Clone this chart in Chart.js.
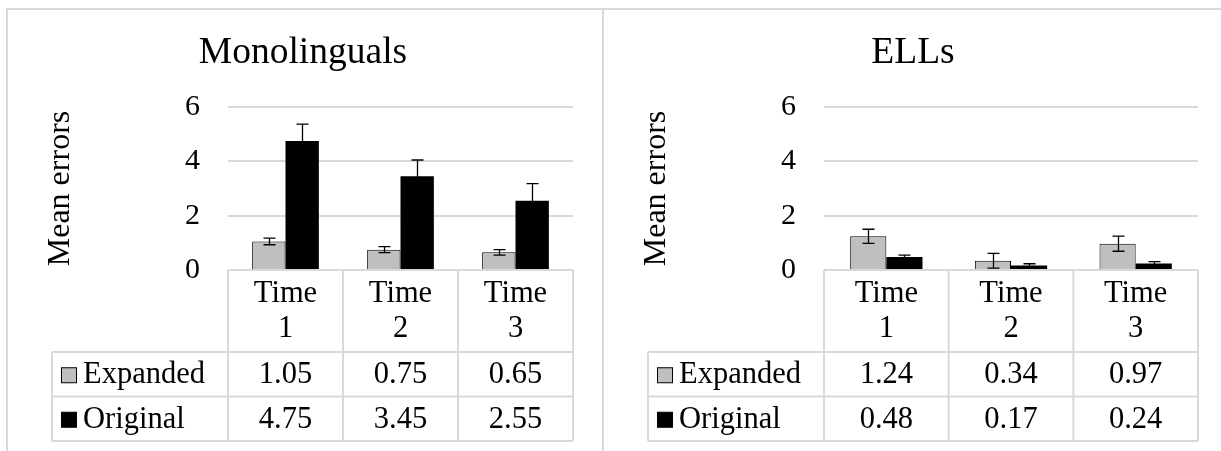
<!DOCTYPE html>
<html><head><meta charset="utf-8">
<script src="https://cdn.jsdelivr.net/npm/chart.js@4.4.1/dist/chart.umd.min.js"></script>
<style>
html,body{margin:0;padding:0;background:#fff}
#wrap{position:relative;width:1221px;height:451px;overflow:hidden;background:#fff}
.ln{position:absolute;background:#d9d9d9}
.box{position:absolute;top:0;height:451px}
</style></head><body>
<div id="wrap">
  <div class="ln" style="left:6px;top:8px;width:1215px;height:2px"></div>
  <div class="ln" style="left:6px;top:8px;width:2px;height:443px"></div>
  <div class="ln" style="left:602px;top:8px;width:2px;height:443px"></div>
  <div class="box" style="left:0;width:603px"><canvas id="cMono"></canvas></div>
  <div class="box" style="left:604px;width:617px"><canvas id="cEll"></canvas></div>
</div>
<script>
// data
const categories=[['Time','1'],['Time','2'],['Time','3']];
const seriesNames=['Expanded','Original'];
const yTicks=[0,2,4,6];

const monoExpanded=[1.05,0.75,0.65];
const monoOriginal=[4.75,3.45,2.55];
const monoExpandedErr=[0.12,0.11,0.10];
const monoOriginalErr=[0.62,0.60,0.63];

const ellExpanded=[1.24,0.34,0.97];
const ellOriginal=[0.48,0.17,0.24];
const ellExpandedErr=[0.26,0.27,0.28];
const ellOriginalErr=[0.07,0.06,0.07];

const FONT="'Liberation Serif','Times New Roman',serif";
const GRID='#d9d9d9';
const COLS=['#bfbfbf','#000000'];

// error bars drawn on top of the bars
const errorBars={id:'errorBars',afterDatasetsDraw(chart){
  const y=chart.scales.y,ctx=chart.ctx;
  ctx.save();ctx.strokeStyle='#000';ctx.lineWidth=1.3;
  chart.data.datasets.forEach((ds,di)=>{
    chart.getDatasetMeta(di).data.forEach((bar,i)=>{
      const v=ds.data[i],e=ds.err[i];
      const yt=y.getPixelForValue(v+e),yb=y.getPixelForValue(v-e);
      const x=Math.round(bar.x)+0.5;
      ctx.beginPath();
      ctx.moveTo(x,yt);ctx.lineTo(x,yb);
      ctx.moveTo(x-6,yt);ctx.lineTo(x+6,yt);
      ctx.moveTo(x-6,yb);ctx.lineTo(x+6,yb);
      ctx.stroke();
    });
  });
  ctx.restore();
}};

// data table under the plot (replaces the x axis)
const dataTable={id:'dataTable',afterDraw(chart,args,o){
  const {ctx,chartArea:a}=chart,x=chart.scales.x;
  const n=chart.data.labels.length,cw=(a.right-a.left)/n;
  const top=a.bottom,hB=top+o.headerH,r1=hB+o.rowH,r2=r1+o.rowH;
  const line=(x1,y1,x2,y2)=>{ctx.beginPath();ctx.moveTo(x1,y1);ctx.lineTo(x2,y2);ctx.stroke();};
  ctx.save();
  ctx.strokeStyle=GRID;ctx.lineWidth=2;
  line(a.left,top,a.right,top);
  [hB,r1,r2].forEach(yy=>line(o.legendLeft,yy,a.right,yy));
  for(let i=0;i<n;i++){const xl=x.getPixelForValue(i)-cw/2;line(xl,top,xl,r2);}
  line(a.right,top,a.right,r2);
  line(o.legendLeft,hB,o.legendLeft,r2);
  ctx.fillStyle='#000';ctx.textBaseline='middle';
  ctx.font=o.size+'px '+FONT;
  ctx.textAlign='center';
  chart.data.labels.forEach((lab,i)=>{
    const cx=x.getPixelForValue(i);
    lab.forEach((t,k)=>ctx.fillText(t,cx,top+o.headerY+k*o.lineGap));
  });
  chart.data.datasets.forEach((ds,di)=>{
    const yc=hB+o.rowH*di+o.rowH/2+1;
    ctx.textAlign='center';ctx.fillStyle='#000';
    ds.data.forEach((v,i)=>ctx.fillText(v.toFixed(2),x.getPixelForValue(i),yc));
    ctx.fillStyle=ds.backgroundColor;
    ctx.fillRect(o.legendLeft+9.5,yc-7.5,15,15);
    ctx.strokeStyle='#000';ctx.lineWidth=1;
    ctx.strokeRect(o.legendLeft+9.5,yc-7.5,15,15);
    ctx.fillStyle='#000';ctx.textAlign='left';
    ctx.fillText(ds.label,o.legendLeft+31,yc);
  });
  ctx.restore();
}};

function makeChart(id,title,exp,orig,expErr,origErr,lay){
  return new Chart(document.getElementById(id),{
    type:'bar',
    data:{labels:categories,datasets:[
      {label:seriesNames[0],data:exp,err:expErr,backgroundColor:COLS[0],borderColor:'#000',borderWidth:1},
      {label:seriesNames[1],data:orig,err:origErr,backgroundColor:COLS[1],borderWidth:0}
    ]},
    options:{responsive:true,maintainAspectRatio:false,animation:false,devicePixelRatio:1,
      categoryPercentage:0.58,barPercentage:1,
      layout:{padding:{left:lay.padL,right:lay.padR,top:30.5,bottom:181}},
      plugins:{
        legend:{display:false},tooltip:{enabled:false},
        title:{display:true,text:title,color:'#000',font:{family:FONT,size:37.5,weight:'normal'},padding:{top:0,bottom:31.5}},
        dataTable:{legendLeft:lay.legL,headerH:82,rowH:44.5,headerY:24,lineGap:35,size:30.5}
      },
      scales:{
        x:{display:false},
        y:{min:0,max:6,
          afterBuildTicks:s=>{s.ticks=yTicks.map(v=>({value:v}));},
          afterFit:s=>{s.width=lay.axisW;},
          grid:{color:GRID,lineWidth:2,drawTicks:false},
          border:{display:false},
          ticks:{color:'#000',font:{family:FONT,size:30},padding:28},
          title:{display:true,text:'Mean errors',color:'#000',font:{family:FONT,size:32},padding:{top:lay.titleP,bottom:0}}
        }
      }
    },
    plugins:[errorBars,dataTable]
  });
}

makeChart('cMono','Monolinguals',monoExpanded,monoOriginal,monoExpandedErr,monoOriginalErr,
  {padL:33,padR:30,axisW:195,legL:52,titleP:8.3});
makeChart('cEll','ELLs',ellExpanded,ellOriginal,ellExpandedErr,ellOriginalErr,
  {padL:24,padR:23,axisW:196,legL:44,titleP:9.3});
</script>
</body></html>
